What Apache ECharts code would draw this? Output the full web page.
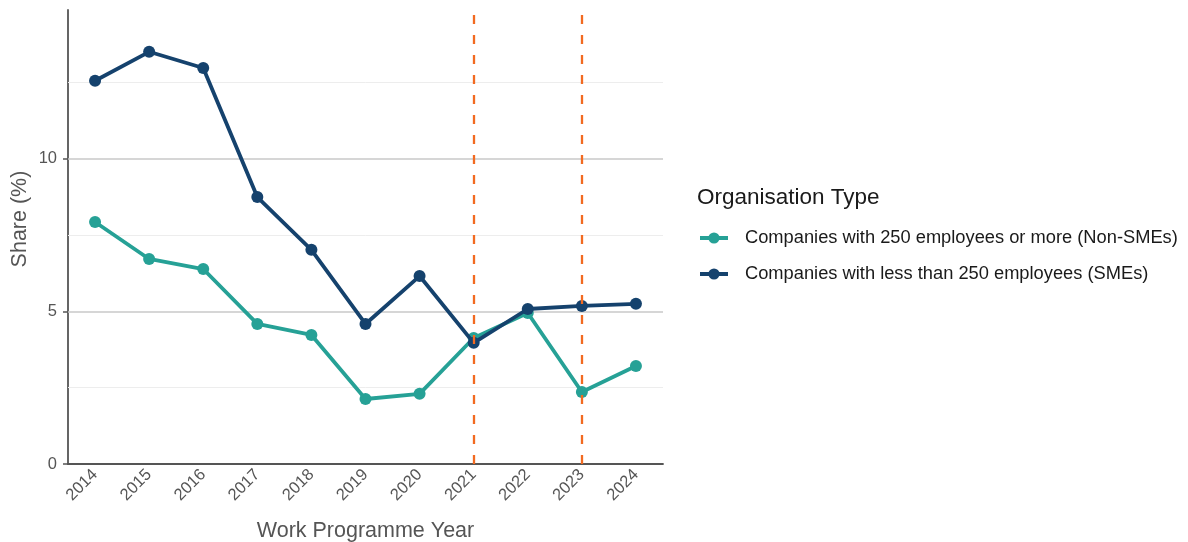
<!DOCTYPE html>
<html>
<head>
<meta charset="utf-8">
<script src="https://cdn.jsdelivr.net/npm/echarts@6/dist/echarts.min.js"></script>
<style>
html,body{margin:0;padding:0;background:#fff;}
#chart{width:1188px;height:542px;}
</style>
</head>
<body>
<div id="chart"></div>
<script>
const years = ['2014','2015','2016','2017','2018','2019','2020','2021','2022','2023','2024'];
const nonSME = [7.93, 6.72, 6.39, 4.59, 4.23, 2.13, 2.30, 4.13, 4.95, 2.36, 3.21];
const sme = [12.56, 13.51, 12.98, 8.75, 7.02, 4.59, 6.16, 3.97, 5.08, 5.18, 5.25];
const yTicks = [0, 5, 10];
const majorGrid = [5, 10];
const minorGrid = [2.5, 7.5, 12.5];
const markerYears = ['2021', '2023'];
const seriesNames = ['Companies with 250 employees or more (Non-SMEs)', 'Companies with less than 250 employees (SMEs)'];
const legendTitle = 'Organisation Type';
const yTitle = 'Share (%)';
const xTitle = 'Work Programme Year';

const FONT = 'Liberation Sans, Arial, sans-serif';
const chart = echarts.init(document.getElementById('chart'), null, {renderer: 'canvas'});

const gridLines = minorGrid.map(v => ({yAxis: v, lineStyle: {color: '#ededed', width: 1, type: 'solid'}}))
  .concat(majorGrid.map(v => ({yAxis: v, lineStyle: {color: '#c9c9c9', width: 1.6, type: 'solid'}})));

chart.setOption({
  animation: false,
  backgroundColor: '#fff',
  grid: {left: 68, right: 525, top: 10, bottom: 78, containLabel: false, outerBoundsMode: 'none'},
  graphic: [
    {
      type: 'text', left: 697, top: 186,
      style: {text: legendTitle, font: '22.5px ' + FONT, fill: '#1a1a1a'}
    },
    {
      type: 'text', x: 20, y: 219, rotation: Math.PI / 2,
      style: {text: yTitle, font: '21.5px ' + FONT, fill: '#555', align: 'center', verticalAlign: 'middle'}
    }
  ],
  legend: {
    orient: 'vertical', left: 693, top: 224, itemGap: 18,
    itemWidth: 28, itemHeight: 14,
    lineStyle: {width: 4},
    textStyle: {fontFamily: FONT, fontSize: 18.3, color: '#1a1a1a', padding: [0,0,0,12]},
    data: seriesNames
  },
  xAxis: {
    type: 'category', data: years, boundaryGap: true,
    name: xTitle, nameLocation: 'middle', nameGap: 56,
    nameTextStyle: {fontFamily: FONT, fontSize: 21.5, color: '#555'},
    axisLine: {lineStyle: {color: '#555', width: 1.8}},
    axisTick: {alignWithLabel: true, length: 5, lineStyle: {color: '#555', width: 1.5}},
    axisLabel: {rotate: 45, fontFamily: FONT, fontSize: 16.5, color: '#555', margin: 8},
    splitLine: {show: false}
  },
  yAxis: {
    type: 'value', min: 0, max: 14.88, interval: 5,
    axisLine: {show: true, lineStyle: {color: '#555', width: 1.8}},
    axisTick: {show: true, length: 5, customValues: yTicks, lineStyle: {color: '#555', width: 1.5}},
    axisLabel: {customValues: yTicks, fontFamily: FONT, fontSize: 16.5, color: '#555', margin: 11},
    splitLine: {show: false}
  },
  series: [
    {
      name: seriesNames[0], type: 'line', data: nonSME,
      color: '#26a196', symbol: 'circle', symbolSize: 12,
      lineStyle: {width: 3.8}, z: 3,
      markLine: {
        silent: true, symbol: 'none', label: {show: false}, z: 1,
        data: gridLines
      }
    },
    {
      name: seriesNames[1], type: 'line', data: sme,
      color: '#15426d', symbol: 'circle', symbolSize: 12,
      lineStyle: {width: 3.8}, z: 4,
      markLine: {
        silent: true, symbol: 'none', label: {show: false}, z: 5,
        lineStyle: {color: '#f26a21', width: 2.3, type: [9, 11]},
        data: markerYears.map(y => ({xAxis: y}))
      }
    }
  ]
});
</script>
</body>
</html>
